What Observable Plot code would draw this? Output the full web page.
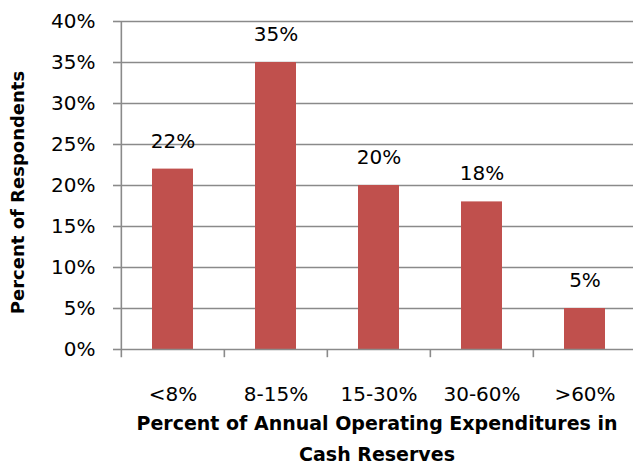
<!DOCTYPE html>
<html>
<head>
<meta charset="utf-8">
<script src="https://cdn.jsdelivr.net/npm/d3@7"></script>
<script src="https://cdn.jsdelivr.net/npm/@observablehq/plot@0.6"></script>
<style>
  html, body { margin: 0; padding: 0; background: #fff; }
</style>
</head>
<body>
<div id="chart"></div>
<script>
const categories = ["<8%", "8-15%", "15-30%", "30-60%", ">60%"];
const values = [22, 35, 20, 18, 5];
const yTicks = [0, 5, 10, 15, 20, 25, 30, 35, 40];
const xTitle = "Percent of Annual Operating Expenditures in\nCash Reserves";
const yTitle = "Percent of Respondents";

const data = categories.map((c, i) => ({cat: c, value: values[i]}));
const grey = "#8a8a8a";
const step = (637 - 120.5) / 5;

const chart = Plot.plot({
  width: 633,
  height: 466,
  marginLeft: 120,
  marginRight: 0,
  marginTop: 21,
  marginBottom: 117,
  style: {fontFamily: "'DejaVu Sans', sans-serif", fontSize: "20px", color: "#000", background: "#fff"},
  x: {domain: categories, range: [120.5, 637], paddingInner: 0.6, paddingOuter: 0.3},
  y: {domain: [0, 40]},
  marks: [
    Plot.ruleY(yTicks.filter(d => d > 0), {stroke: grey, strokeWidth: 1.6}),
    Plot.barY(data, {x: "cat", y: "value", fill: "#C0504D"}),
    Plot.ruleY([0], {stroke: grey, strokeWidth: 1.6}),
    Plot.ruleX(categories, {x: d => d, y1: -1, y2: (d, i) => i === 0 ? 40 : 0, dx: -step / 2, stroke: grey, strokeWidth: 1.6}),
    Plot.axisY({ticks: yTicks, tickFormat: d => d + "%", tickSize: 7, tickPadding: 18, stroke: grey, strokeWidth: 1.6, fill: "#000", fontSize: 20, label: null}),
    Plot.axisX({tickSize: 0, tickPadding: 37, fill: "#000", fontSize: 20, label: null}),
    Plot.text(data, {x: "cat", y: "value", text: d => d.value + "%", dy: -28, fontSize: 20, fill: "#000"}),
    Plot.text([xTitle], {text: d => d, frameAnchor: "bottom", lineAnchor: "top", dy: 58, fontWeight: "bold", fontSize: 19, lineHeight: 1.66, fill: "#000"}),
    Plot.text([yTitle], {text: d => d, frameAnchor: "left", textAnchor: "middle", dx: -102, dy: 7, rotate: -90, fontWeight: "bold", fontSize: 18, fill: "#000"})
  ]
});
document.getElementById("chart").appendChild(chart);
</script>
</body>
</html>
